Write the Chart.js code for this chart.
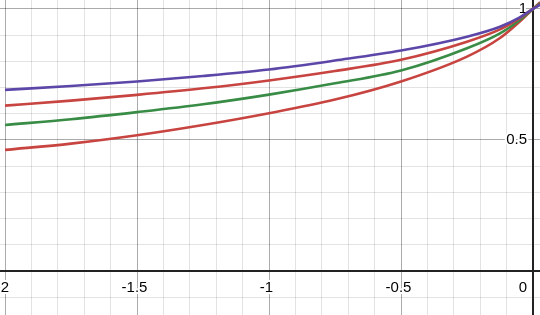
<!DOCTYPE html>
<html>
<head>
<meta charset="utf-8">
<script src="https://cdn.jsdelivr.net/npm/chart.js@4"></script>
<style>
  html, body { margin: 0; padding: 0; background: #fff; }
  canvas { display: block; }
</style>
</head>
<body>
<canvas id="chart" width="540" height="315"></canvas>
<script>
// sample x positions
const xValues = [-2, -1.75, -1.5, -1.25, -1, -0.75, -0.5, -0.25, -0.125, -0.05, 0, 0.027];

// curves, top to bottom
const blueValues  = [0.691, 0.706, 0.723, 0.744, 0.769, 0.803, 0.841, 0.894, 0.932, 0.968, 1.0, 1.016];
const red1Values  = [0.631, 0.650, 0.672, 0.697, 0.727, 0.763, 0.806, 0.875, 0.922, 0.965, 1.0, 1.018];
const greenValues = [0.557, 0.579, 0.606, 0.636, 0.673, 0.716, 0.765, 0.850, 0.907, 0.958, 1.0, 1.022];
const red2Values  = [0.462, 0.486, 0.518, 0.557, 0.602, 0.654, 0.723, 0.818, 0.889, 0.952, 1.0, 1.026];

// axis labels
const xTickValues = [-2, -1.5, -1, -0.5, 0];
const xTickLabels = ['-2', '-1.5', '-1', '-0.5', '0'];
const yTickValues = [0.5, 1];
const yTickLabels = ['0.5', '1'];

function toPoints(ys) {
    return ys.map((y, i) => ({ x: xValues[i], y: y }));
}

function gridTicks(from, to) {
    const out = [];
    for (let i = from; i <= to; i++) out.push({ value: i / 10 });
    return out;
}

function gridColor(ctx) {
    const v = ctx.tick ? ctx.tick.value : 0;
    if (Math.abs(v) < 1e-9) return 'rgba(0,0,0,0)';
    if (Math.abs(v * 2 - Math.round(v * 2)) < 1e-6) return 'rgba(0,0,0,0.33)';
    return 'rgba(0,0,0,0.11)';
}

// desmos-style labels: the digits are centred on the tick, the minus hangs off to the left
function drawLabel(c, text, px, py) {
    const neg = text.charAt(0) === '-';
    const digits = neg ? text.slice(1) : text;
    const w = c.measureText(digits).width;
    const left = neg ? px - w / 2 - c.measureText('-').width : px - w / 2;
    c.strokeText(text, left, py);
    c.fillText(text, left, py);
}

const desmosAxes = {
    id: 'desmosAxes',
    beforeDraw(chart) {
        const c = chart.ctx;
        c.save();
        c.fillStyle = '#fff';
        c.fillRect(0, 0, chart.width, chart.height);
        c.restore();
    },
    beforeDatasetsDraw(chart) {
        const c = chart.ctx;
        const xs = chart.scales.x, ys = chart.scales.y;
        const x0 = xs.getPixelForValue(0), y0 = ys.getPixelForValue(0);
        c.save();
        c.strokeStyle = '#222';
        c.lineWidth = 2;
        c.beginPath();
        c.moveTo(0, y0); c.lineTo(chart.width, y0);
        c.moveTo(x0, 0); c.lineTo(x0, chart.height);
        c.stroke();

        c.font = '15px "Liberation Sans", Arial, sans-serif';
        c.lineJoin = 'round';
        c.strokeStyle = '#fff';
        c.lineWidth = 4;
        c.fillStyle = '#000';
        c.textBaseline = 'top';
        c.textAlign = 'left';
        xTickValues.forEach((v, i) => {
            const label = xTickLabels[i];
            if (v === 0) {
                const w = c.measureText(label).width;
                c.strokeText(label, x0 - 6 - w, y0 + 9);
                c.fillText(label, x0 - 6 - w, y0 + 9);
            } else {
                drawLabel(c, label, xs.getPixelForValue(v), y0 + 9);
            }
        });
        c.textAlign = 'right';
        c.textBaseline = 'middle';
        yTickValues.forEach((v, i) => {
            const py = ys.getPixelForValue(v);
            c.strokeText(yTickLabels[i], x0 - 6, py);
            c.fillText(yTickLabels[i], x0 - 6, py);
        });
        c.restore();
    }
};

function curve(data, color) {
    return {
        data: toPoints(data),
        borderColor: color,
        borderWidth: 2.6,
        pointRadius: 0,
        showLine: true,
        fill: false,
        cubicInterpolationMode: 'monotone'
    };
}

new Chart(document.getElementById('chart'), {
    type: 'scatter',
    data: {
        datasets: [
            curve(blueValues, '#5c47a8'),
            curve(red1Values, '#c74440'),
            curve(greenValues, '#388c46'),
            curve(red2Values, '#c74440')
        ]
    },
    options: {
        responsive: false,
        animation: false,
        devicePixelRatio: 1,
        layout: { padding: 0 },
        plugins: { legend: { display: false }, tooltip: { enabled: false } },
        scales: {
            x: {
                type: 'linear',
                min: -2.019,
                max: 0.0265,
                afterBuildTicks: s => { s.ticks = gridTicks(-20, 0); },
                ticks: { display: false },
                border: { display: false },
                grid: { drawTicks: false, color: gridColor, lineWidth: 1 }
            },
            y: {
                type: 'linear',
                min: -0.168,
                max: 1.034,
                afterBuildTicks: s => { s.ticks = gridTicks(-1, 10); },
                ticks: { display: false },
                border: { display: false },
                grid: { drawTicks: false, color: gridColor, lineWidth: 1 }
            }
        }
    },
    plugins: [desmosAxes]
});
</script>
</body>
</html>
